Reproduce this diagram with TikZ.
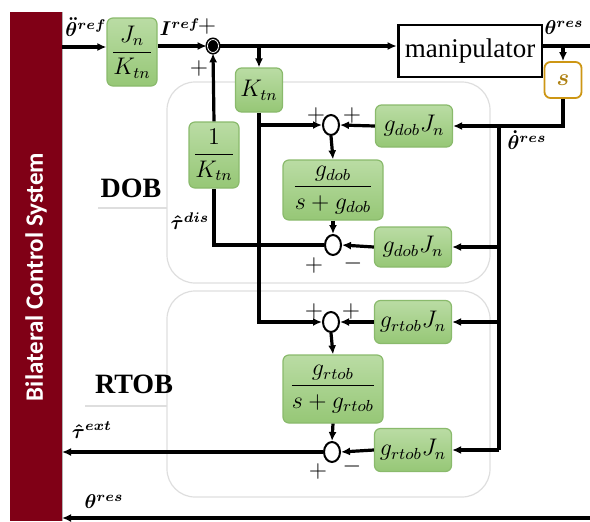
\documentclass[tikz,border=0pt]{standalone}
\usepackage{amsmath}
\usepackage{fontspec}
\setmainfont{Liberation Serif}
\newfontfamily\barfont{Carlito}
\usetikzlibrary{shapes.geometric,arrows.meta}
\definecolor{barred}{RGB}{128,0,22}
\definecolor{blkgreenA}{RGB}{186,220,164}
\definecolor{blkgreenB}{RGB}{150,199,118}
\definecolor{blkedge}{RGB}{138,186,108}
\definecolor{sgold}{RGB}{205,150,20}
\definecolor{regiongray}{RGB}{222,222,222}
\begin{document}
\begin{tikzpicture}[x=0.5pt, y=-0.5pt, >={Latex[length=4.5pt,width=4pt]},
  blk/.style={draw=blkedge, line width=0.6pt, rounded corners=3pt,
    top color=blkgreenA, bottom color=blkgreenB, inner sep=1pt, font=\large},
  sumpt/.style={ellipse, draw, fill=white, line width=1pt,
    minimum width=8pt, minimum height=10pt, inner sep=0pt},
  region/.style={draw=regiongray, line width=0.6pt, rounded corners=14pt},
  wire/.style={line width=1.6pt},
  sgn/.style={inner sep=0pt, font=\large}]
  \useasboundingbox (0,0) rectangle (590,521);

  % 1. 左の帯
  \fill[barred] (10,12) rectangle (62,521);
  \draw[gray!60, line width=0.8pt] (62.5,12) -- (62.5,521);
  \node[rotate=90, text=white, font=\barfont\bfseries\fontsize{12.5}{14}\selectfont]
    (bartext) at (36,277) {Bilateral Control System};

  % 2. 領域 DOB / RTOB
  \draw[region] (167,82) rectangle (490,283);
  \draw[region] (167,291) rectangle (490,497);
  \draw[regiongray, line width=0.6pt] (98,208) -- (167,208);
  \draw[regiongray, line width=0.6pt] (85,406) -- (167,406);
  \node[font=\bfseries\fontsize{14}{16}\selectfont] (doblbl) at (131,188) {DOB};
  \node[font=\bfseries\fontsize{14}{16}\selectfont] (rtoblbl) at (134,384) {RTOB};

  % 3. ブロック
  \node[blk, minimum width=25pt, minimum height=34pt] (gain) at (132,52) {$\dfrac{J_n}{K_{tn}}$};
  \node[sumpt, fill=black, double=white, double distance=0.4pt, line width=0.8pt,
    minimum width=5.5pt, minimum height=6.5pt] (sum) at (213,46) {};
  \node[blk, minimum width=23.5pt, minimum height=22pt] (Ktn) at (259,90) {$K_{tn}$};
  \node[draw, line width=1.4pt, minimum width=67pt, minimum height=26pt,
    font=\fontsize{13.5}{15}\selectfont] (manip) at (470,51) {manipulator};
  \node[draw=sgold, line width=0.9pt, rounded corners=3pt, minimum width=18.5pt,
    minimum height=18pt, text=sgold!85!black, font=\large] (sblk) at (563,80) {$\boldsymbol{s}$};
  \node[blk, minimum width=25pt, minimum height=33pt] (invK) at (214,155) {$\dfrac{1}{K_{tn}}$};

  % DOB
  \node[sumpt] (sumD1) at (331,125) {};
  \node[blk, minimum width=38.5pt, minimum height=21pt] (gdJ1) at (414,126) {$g_{dob}J_n$};
  \node[blk, minimum width=50pt, minimum height=30pt] (filtD) at (333,190) {$\dfrac{g_{dob}}{s+g_{dob}}$};
  \node[sumpt] (sumD2) at (333,245) {};
  \node[blk, minimum width=38.5pt, minimum height=20pt] (gdJ2) at (413,247) {$g_{dob}J_n$};

  % RTOB
  \node[sumpt] (sumR1) at (331,322) {};
  \node[blk, minimum width=38.5pt, minimum height=21.5pt] (grJ1) at (413,322) {$g_{rtob}J_n$};
  \node[blk, minimum width=50pt, minimum height=34pt] (filtR) at (333,389) {$\dfrac{g_{rtob}}{s+g_{rtob}}$};
  \node[sumpt] (sumR2) at (332,452) {};
  \node[blk, minimum width=38.5pt, minimum height=21.5pt] (grJ2) at (413,450) {$g_{rtob}J_n$};

  % 4. 座標
  \coordinate (inpt) at (62,47);
  \coordinate (outpt) at (590,46);
  \coordinate (fb) at (499,125);
  \coordinate (ktnB) at (259,125);
  \coordinate (disC) at (214,245);
  \coordinate (extpt) at (62,452);
  \coordinate (resR) at (590,518);
  \coordinate (resL) at (62,518);

  % 5. 配線
  \begin{scope}[wire]
    \draw[->] (inpt) -- (inpt -| gain.west);
    \draw[->] (gain.east |- sum) -- (sum);
    \draw[->] (sum) -- (sum -| manip.west);
    \draw[->] (sum -| Ktn) -- (Ktn.north);
    \draw[line width=2pt] (manip.east |- sum) -- (outpt);
    \draw[->] (sblk |- sum) -- (sblk.north);
    \draw[->] (sblk.south) |- (gdJ1.east);
    \draw (fb) -- (fb |- grJ2);
    \draw[->] (fb |- gdJ2) -- (gdJ2.east);
    \draw[->] (fb |- grJ1) -- (grJ1.east);
    \draw[->] (fb |- grJ2) -- (grJ2.east);
    \draw[->] (Ktn.south) |- (sumR1.west);
    \draw[->] (ktnB) -- (sumD1.west);
    \draw[->] (gdJ1.west) -- (sumD1.east);
    \draw[->] (sumD1.south) -- (filtD.north);
    \draw[->] (filtD.south) -- (sumD2.north);
    \draw[->] (gdJ2.west) -- (sumD2.east);
    \draw (sumD2.west) -- (disC) -- (invK.south);
    \draw[->] (invK.north) -- (sum.south);
    \draw[->] (grJ1.west) -- (sumR1.east);
    \draw[->] (sumR1.south) -- (filtR.north);
    \draw[->] (filtR.south) -- (sumR2.north);
    \draw[->] (grJ2.west) -- (sumR2.east);
    \draw[->] (sumR2.west) -- (extpt);
    \draw[->] (resR) -- (resL);
  \end{scope}

  % 6. ラベル
  \node at (86,27) {$\boldsymbol{\ddot{\theta}^{ref}}$};
  \node at (180,27) {$\boldsymbol{I^{ref}}$};
  \node[sgn] at (207,26) {$+$};
  \node[sgn] at (199,68) {$+$};
  \node at (564,28) {$\boldsymbol{\theta^{res}}$};
  \node at (527,140) {$\boldsymbol{\dot{\theta}^{res}}$};
  \node at (190,221) {$\boldsymbol{\hat{\tau}^{dis}}$};
  \node at (92,430) {$\boldsymbol{\hat{\tau}^{ext}}$};
  \node at (104,502) {$\boldsymbol{\theta^{res}}$};
  \node[sgn] at (316,115) {$+$};
  \node[sgn] at (352,115) {$+$};
  \node[sgn] at (314,265) {$+$};
  \node[sgn] at (353,263) {$-$};
  \node[sgn] at (314,311) {$+$};
  \node[sgn] at (351,311) {$+$};
  \node[sgn] at (318,471) {$+$};
  \node[sgn] at (352,466) {$-$};

\end{tikzpicture}
\end{document}
